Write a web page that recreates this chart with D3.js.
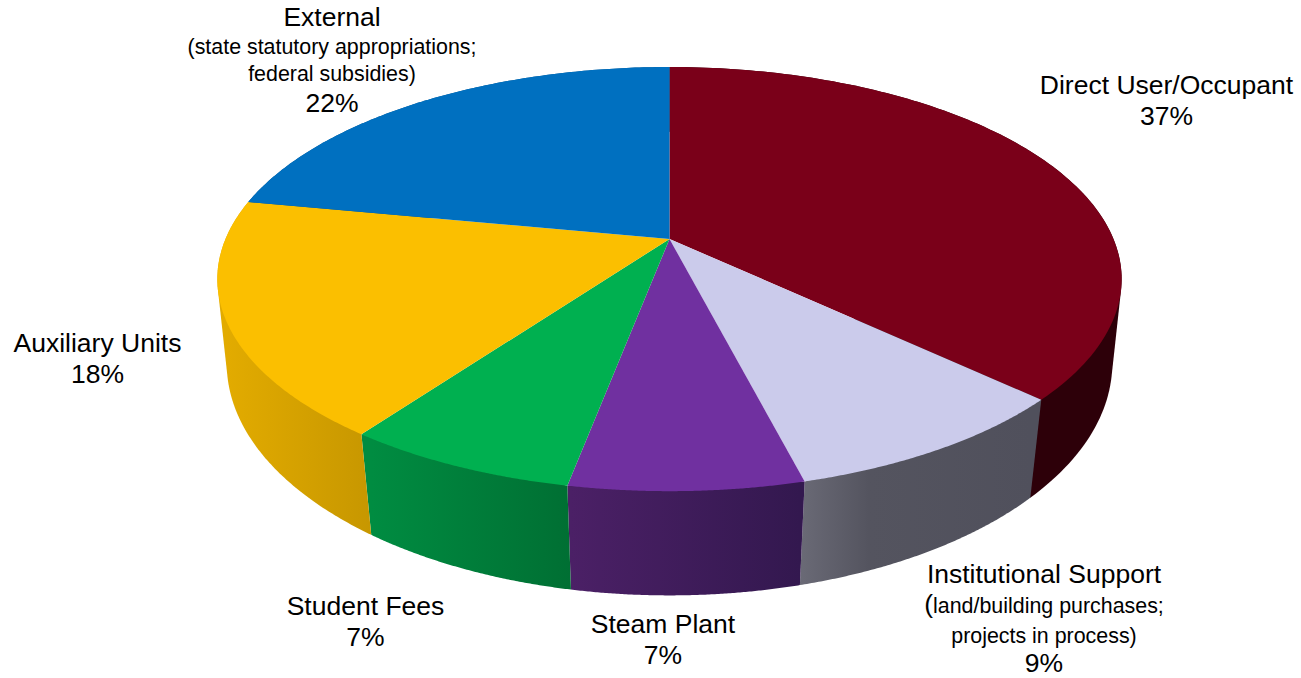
<!DOCTYPE html>
<html>
<head>
<meta charset="utf-8">
<script src="https://cdn.jsdelivr.net/npm/d3@7/dist/d3.min.js"></script>
<style>
  html, body { margin: 0; padding: 0; background: #fff; }
  svg { display: block; }
  text { font-family: "Liberation Sans", Arial, sans-serif; fill: #000; }
</style>
</head>
<body>
<svg id="chart" width="1301" height="678"></svg>
<script>
// Share of funding by source, in percent, clockwise from twelve o'clock.
const categories = ["Direct User/Occupant", "Institutional Support", "Steam Plant", "Student Fees", "Auxiliary Units", "External"];
const values = [37, 9, 7, 7, 18, 22];
const notes = [[], ["land/building purchases;", "projects in process)"], [], [], [], ["(state statutory appropriations;", "federal subsidies)"]];

const topColors = ["#7a0019", "#cbcbeb", "#7030a0", "#00b050", "#fbbf00", "#0070c0"];
const wallStops = [
  [[0, "#2d0009"], [1, "#2d0009"]],
  [[0, "#6a6a76"], [0.3, "#54545f"], [1, "#50505c"]],
  [[0, "#4b2066"], [1, "#33184f"]],
  [[0, "#008c41"], [1, "#006f33"]],
  [[0, "#e2ab00"], [1, "#c79700"]],
  [[0, "#00538f"], [1, "#00538f"]]
];

// Label placement: centre x and one baseline per line.
const labelLayout = [
  { x: 1166.5, y: [94, 125] },
  { x: 1044, y: [583, 613, 643, 672] },
  { x: 663,  y: [633, 664] },
  { x: 365.5, y: [615, 646] },
  { x: 97.5, y: [352, 383] },
  { x: 332,  y: [26, 54, 81, 112] }
];

const svg = d3.select("#chart");
const defs = svg.append("defs");

// Perspective view of a tilted disc: the far edge is foreshortened, so the
// centre sits above the middle of the ellipse that it projects to.
const upper = { cx: 669.5, cy: 239, ax: 444, ay: 204.5, tilt: 0.189 };
const lower = { cx: 669.5, cy: 323, ax: 436, ay: 225, tilt: 0.174 };

const project = plane => angle => {
  const d = 1 + plane.tilt * Math.cos(angle);
  return [plane.cx + plane.ax * Math.sin(angle) / d, plane.cy - plane.ay * Math.cos(angle) / d];
};
const rim = project(upper);
const lowerRim = project(lower);

const pie = d3.pie().sort(null).startAngle(0).endAngle(2 * Math.PI);
const arcs = pie(values);
const line = d3.line();
const sweep = a => d3.range(0, 121).map(i => a.startAngle + (a.endAngle - a.startAngle) * i / 120);

// Side walls first; the upper faces are painted over whatever lies behind them.
const walls = svg.append("g");
arcs.forEach((a, i) => {
  const angles = sweep(a);
  const hull = d3.polygonHull(angles.map(rim).concat(angles.map(lowerRim)));
  const visible = angles.map(lowerRim).filter(p => p[1] > upper.cy + 100);
  const xs = (visible.length ? visible : angles.map(lowerRim)).map(p => p[0]);
  const grad = defs.append("linearGradient")
    .attr("id", "wall" + i)
    .attr("gradientUnits", "userSpaceOnUse")
    .attr("x1", d3.min(xs)).attr("x2", d3.max(xs))
    .attr("y1", 0).attr("y2", 0);
  wallStops[i].forEach(s => grad.append("stop").attr("offset", s[0]).attr("stop-color", s[1]));
  walls.append("path")
    .attr("d", line(hull) + "Z")
    .attr("fill", `url(#wall${i})`);
});

const faces = svg.append("g");
arcs.forEach((a, i) => {
  faces.append("path")
    .attr("d", line([[upper.cx, upper.cy]].concat(sweep(a).map(rim))) + "Z")
    .attr("fill", topColors[i]);
});

const big = 26.5, small = 21.4;
const labels = svg.append("g").attr("text-anchor", "middle");
categories.forEach((name, i) => {
  const lines = [{ t: name, s: big }]
    .concat(notes[i].map(t => ({ t, s: small })))
    .concat([{ t: values[i] + "%", s: big }]);
  lines.forEach((l, j) => {
    const node = labels.append("text")
      .attr("x", labelLayout[i].x)
      .attr("y", labelLayout[i].y[j])
      .attr("font-size", l.s);
    // The opening bracket of the Institutional Support note is set at heading size.
    if (i === 1 && j === 1) {
      node.append("tspan").attr("font-size", big).text("(");
      node.append("tspan").text(l.t);
    } else {
      node.text(l.t);
    }
  });
});
</script>
</body>
</html>
